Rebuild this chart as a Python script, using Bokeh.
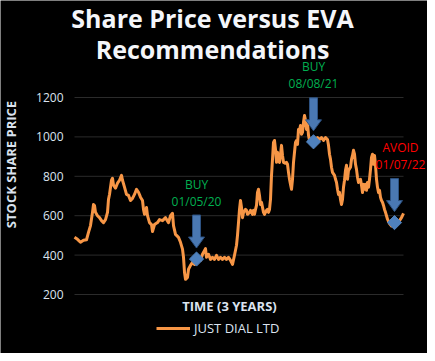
import math
from bokeh.plotting import figure
from bokeh.models import Range1d, Label, Legend, LegendItem
from bokeh.embed import file_html
from bokeh.resources import INLINE

# ---- data (time step ~ 1 step per ~2.3 trading days, over 3 years) ----
t = [0, 3, 6, 9, 12, 14, 16, 18, 19, 20, 21, 23, 25, 27, 29, 31, 33, 34, 35, 37,
     38, 39, 41, 43, 45, 47, 48, 50, 52, 54, 56, 58, 60, 62, 64, 66, 68, 69, 70, 72,
     73, 75, 77, 78, 80, 83, 85, 88, 91, 94, 96, 98, 99, 101, 104, 106, 108, 109, 110, 111,
     113, 114, 116, 118, 120, 122, 124, 126, 128, 131, 132, 134, 136, 138, 140, 142, 144, 146, 148, 150,
     152, 154, 156, 158, 160, 162, 163, 164, 165, 166, 167, 168, 169, 171, 172, 173, 175, 176, 178, 179,
     180, 181, 182, 183, 184, 185, 186, 187, 189, 190, 192, 193, 194, 195, 196, 197, 198, 199, 200, 201,
     202, 203, 204, 205, 206, 207, 208, 209, 211, 212, 213, 214, 215, 216, 217, 218, 219, 220, 221, 222,
     223, 224, 225, 226, 227, 228, 229, 230, 231, 232, 233, 234, 235, 237, 238, 240, 243, 245, 247, 249,
     251, 253, 254, 255, 256, 257, 258, 260, 261, 262, 263, 264, 265, 266, 267, 268, 269, 270, 271, 272,
     273, 274, 276, 277, 278, 279, 280, 281, 282, 283, 284, 285, 286, 287, 288, 289, 290, 291, 292, 293,
     294, 295, 296, 297, 298, 299, 300, 301, 302, 303, 304, 305, 306, 307, 308, 309, 310, 311, 312, 313,
     315, 317, 319, 321, 323, 325, 327, 329]
price = [490, 480, 465, 475, 478, 515, 550, 617, 657, 652, 617, 600, 590, 575, 565, 580, 617, 683, 708, 780,
         790, 755, 740, 765, 780, 805, 780, 745, 708, 703, 677, 688, 708, 734, 719, 694, 677, 632, 607, 642,
         600, 565, 555, 520, 555, 565, 580, 575, 590, 565, 600, 612, 550, 505, 490, 465, 430, 389, 313, 277,
         287, 328, 348, 363, 353, 363, 378, 373, 404, 433, 389, 404, 378, 389, 378, 399, 378, 389, 378, 389,
         378, 389, 373, 353, 399, 450, 500, 565, 632, 677, 642, 590, 617, 632, 627, 607, 617, 627, 607, 627,
         607, 632, 652, 718, 734, 703, 657, 668, 617, 607, 627, 632, 617, 632, 683, 805, 886, 972, 982, 937,
         871, 922, 881, 871, 912, 957, 906, 871, 866, 871, 861, 820, 785, 759, 734, 785, 871, 922, 972, 982,
         962, 1038, 1033, 1058, 1013, 1023, 1074, 1109, 1084, 1038, 1074, 1008, 982, 987, 972, 982, 997, 987, 997, 982,
         997, 987, 957, 912, 886, 846, 820, 805, 785, 769, 734, 708, 718, 683, 657, 683, 744, 780, 830, 856,
         785, 830, 846, 886, 906, 932, 912, 861, 835, 795, 769, 780, 785, 754, 718, 759, 734, 759, 729, 769,
         744, 785, 835, 896, 912, 861, 906, 856, 785, 744, 718, 729, 693, 677, 668, 652, 632, 617, 600, 582,
         560, 548, 555, 560, 570, 575, 590, 612]

sig_t = [122, 239, 320]
sig_v = [380, 975, 565]
sig_action = ["BUY", "BUY", "AVOID"]
sig_date = ["01/05/20", "08/08/21", "01/07/22"]
y_ticks = [200, 400, 600, 800, 1000, 1200]

# ---- layout (canvas px) ----
W, H = 427, 353
FX0, FX1 = 74, 403      # plot area left/right
FY0, FY1 = 97, 294      # plot area top/bottom
kx = (t[-1] - t[0]) / (FX1 - FX0)
ky = (y_ticks[-1] - y_ticks[0]) / (FY1 - FY0)
xr = Range1d(t[0] - FX0 * kx, t[-1] + (W - FX1) * kx)
yr = Range1d(y_ticks[0] - (H - FY1) * ky, y_ticks[-1] + FY0 * ky)

def xc(cx):  # canvas x -> data
    return t[0] + (cx - FX0) * kx

def yc(cy):  # canvas y -> data
    return y_ticks[-1] - (cy - FY0) * ky

p = figure(width=W, height=H, output_backend="svg", toolbar_location=None,
           x_range=xr, y_range=yr, title=None, min_border=0)
p.background_fill_color = "black"
p.border_fill_color = "black"
p.outline_line_color = None
p.xaxis.visible = False
p.xgrid.visible = False
p.ygrid.visible = False

ax = p.yaxis[0]
ax.fixed_location = t[0]
ax.ticker = y_ticks
ax.axis_line_color = None
ax.major_tick_line_color = None
ax.minor_tick_line_color = None
ax.major_tick_out = 0
ax.major_label_text_color = "#dbe3ef"
ax.major_label_text_font = "Open Sans"
ax.major_label_text_font_size = "12px"
ax.major_label_standoff = 11

# horizontal gridlines across the plot area
p.segment(x0=[t[0]] * len(y_ticks), x1=[t[-1]] * len(y_ticks), y0=y_ticks, y1=y_ticks,
          line_color="#2b2b2b", line_width=1)

line_r = p.line(t, price, line_color="#f79646", line_width=3, line_join="round")

# block arrows pointing down at each signal
xs, ys = [], []
for st, sv in zip(sig_t, sig_v):
    tip = sv + 11 * ky
    hb = tip + 11 * ky
    top = tip + 33 * ky
    xs.append([st - 4 * kx, st + 4 * kx, st + 4 * kx, st + 8 * kx, st, st - 8 * kx, st - 4 * kx])
    ys.append([top, top, hb, hb, tip, hb, hb])
p.patches(xs, ys, fill_color="#4a78b2", line_color="#2d5282", line_width=1)
p.scatter(sig_t, sig_v, marker="square", angle=math.pi / 4, size=10,
          fill_color="#4f81bd", line_color="#4f81bd")

act_color = {"BUY": "#00b050", "AVOID": "#ff0000"}
act_dx = {"BUY": 0, "AVOID": 6}
for st, sv, a, d in zip(sig_t, sig_v, sig_action, sig_date):
    c = act_color[a]
    p.add_layout(Label(x=st, y=sv, x_offset=act_dx[a], y_offset=75, text=a,
                       text_align="center", text_baseline="middle", text_color=c,
                       text_font="Open Sans", text_font_size="12px"))
    p.add_layout(Label(x=st, y=sv, x_offset=act_dx[a], y_offset=58, text=d,
                       text_align="center", text_baseline="middle", text_color=c,
                       text_font="Open Sans", text_font_size="12px"))

# title (two lines)
for txt, cy in [("Share Price versus EVA", 17), ("Recommendations", 48)]:
    p.add_layout(Label(x=xc(212), y=yc(cy), text=txt, text_align="center",
                       text_baseline="middle", text_color="#f4f6fa",
                       text_font="Open Sans", text_font_style="bold",
                       text_font_size="25px"))

# axis titles
p.add_layout(Label(x=xc(10), y=yc(164), text="STOCK SHARE PRICE", angle=math.pi / 2,
                   text_align="center", text_baseline="middle", text_color="#dbe3ef",
                   text_font="Open Sans", text_font_style="bold", text_font_size="13px"))
p.add_layout(Label(x=xc(229), y=yc(305), text="TIME (3 YEARS)",
                   text_align="center", text_baseline="middle", text_color="#dbe3ef",
                   text_font="Open Sans", text_font_style="bold", text_font_size="13px"))

legend = Legend(items=[LegendItem(label="JUST DIAL LTD", renderers=[line_r])],
                location=(156, 16), padding=0, margin=0, spacing=0,
                glyph_width=34, glyph_height=16, label_height=16, label_standoff=4,
                label_text_font="Open Sans", label_text_font_size="13px",
                label_text_color="#dbe3ef", background_fill_alpha=0,
                border_line_alpha=0)
p.add_layout(legend)

open("out.html", "w").write(file_html(p, INLINE))
